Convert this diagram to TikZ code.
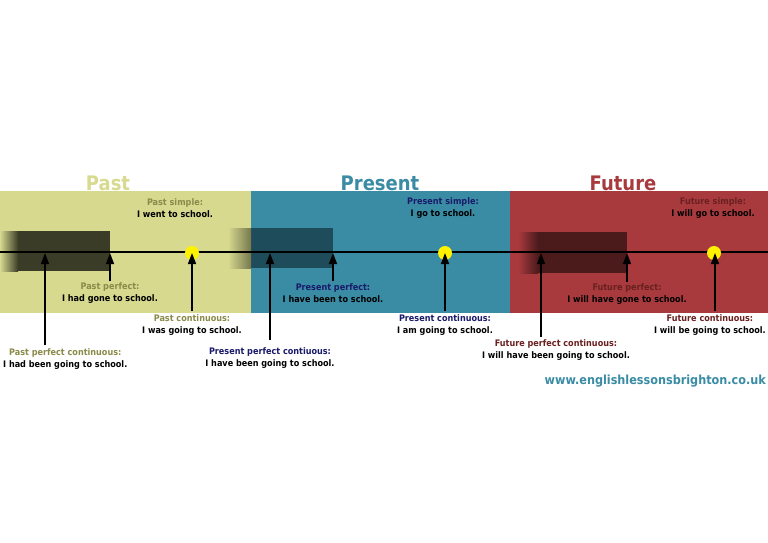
\documentclass[tikz,border=0pt]{standalone}
\usepackage{fontspec}
\setmainfont{DejaVu Sans Condensed}
\usetikzlibrary{arrows.meta}
\definecolor{pastc}{HTML}{D6D98E}
\definecolor{presc}{HTML}{3A8CA5}
\definecolor{futc}{HTML}{A83A3E}
\definecolor{pastl}{HTML}{8A8A4A}
\definecolor{presl}{HTML}{1A1A6A}
\definecolor{futl}{HTML}{6A2020}
\definecolor{titp}{HTML}{D8DA8E}
\definecolor{urlc}{HTML}{3A8CA5}
\begin{document}
\begin{tikzpicture}[x=1pt,y=-1pt,
  lab/.style={font=\bfseries\fontsize{9}{11.5}\selectfont,align=center,inner sep=0pt},
  ttl/.style={font=\bfseries\fontsize{20}{22}\selectfont,inner sep=0pt},
  arr/.style={-{Triangle[length=11pt,width=8pt]},line width=1.5pt},
  dot/.style={circle,fill=yellow,minimum size=14pt,inner sep=0pt}]
\useasboundingbox[fill=white] (0,0) rectangle (768,543);
\fill[pastc] (0,191) rectangle (251,313);
\fill[presc] (251,191) rectangle (510,313);
\fill[futc] (510,191) rectangle (768,313);
\fill[black,opacity=0.72] (18,231) rectangle (110,271);
\shade[left color=pastc,right color=black!72!pastc] (0,231) rectangle (18,271);
\fill[black,opacity=0.45] (248,228) rectangle (333,268);
\shade[left color=pastc,right color=black!45!pastc] (228,228) rectangle (251,268);
\fill[black,opacity=0.55] (538,232) rectangle (627,273);
\shade[left color=futc,right color=black!55!futc] (518,232) rectangle (538,273);
\node[ttl,text=titp] (tpast) at (108,183) {Past};
\node[ttl,text=presc] (tpres) at (380,183) {Present};
\node[ttl,text=futc] (tfut) at (623,183) {Future};
\coordinate (l0) at (0,252); \coordinate (l1) at (768,252);
\draw[line width=1.2pt] (l0) -- (l1);
\node[dot] (d1) at (192,253) {};
\node[dot] (d2) at (445,253) {};
\node[dot] (d3) at (714,253) {};
\node[lab] (ps) at (175,208) {\textcolor{pastl}{Past simple:}\\I went to school.};
\node[lab] (pp) at (110,293) {\textcolor{pastl}{Past perfect:}\\I had gone to school.};
\node[lab] (pc) at (192,325) {\textcolor{pastl}{Past continuous:}\\I was going to school.};
\node[lab,anchor=west] (ppc) at (3,359) {\textcolor{pastl}{Past perfect continuous:}\\I had been going to school.};
\node[lab] (prs) at (443,208) {\textcolor{presl}{Present simple:}\\I go to school.};
\node[lab] (prp) at (333,293) {\textcolor{presl}{Present perfect:}\\I have been to school.};
\node[lab] (prc) at (445,325) {\textcolor{presl}{Present continuous:}\\I am going to school.};
\node[lab] (prpc) at (270,358) {\textcolor{presl}{Present perfect contiuous:}\\I have been going to school.};
\node[lab] (fs) at (713,208) {\textcolor{futl}{Future simple:}\\I will go to school.};
\node[lab] (fp) at (627,294) {\textcolor{futl}{Future perfect:}\\I will have gone to school.};
\node[lab,anchor=east] (fc) at (766,325) {\textcolor{futl}{Future continuous:}\\I will be going to school.};
\node[lab] (fpc) at (556,350) {\textcolor{futl}{Future perfect continuous:}\\I will have been going to school.};
\node[font=\bfseries\fontsize{12.5}{15}\selectfont,text=urlc,inner sep=0pt,anchor=east] (url) at (766,381) {www.englishlessonsbrighton.co.uk};
\coordinate (a1) at (45,253); \coordinate (b1) at (45,345);
\coordinate (a2) at (110,253); \coordinate (b2) at (110,281);
\coordinate (a3) at (192,253); \coordinate (b3) at (192,311);
\coordinate (a4) at (270,253); \coordinate (b4) at (270,340);
\coordinate (a5) at (333,253); \coordinate (b5) at (333,281);
\coordinate (a6) at (445,253); \coordinate (b6) at (445,311);
\coordinate (a7) at (541,253); \coordinate (b7) at (541,337);
\coordinate (a8) at (627,253); \coordinate (b8) at (627,282);
\coordinate (a9) at (715,253); \coordinate (b9) at (715,311);
\foreach \i in {1,...,9} \draw[arr] (b\i) -- (a\i);
\end{tikzpicture}
\end{document}
